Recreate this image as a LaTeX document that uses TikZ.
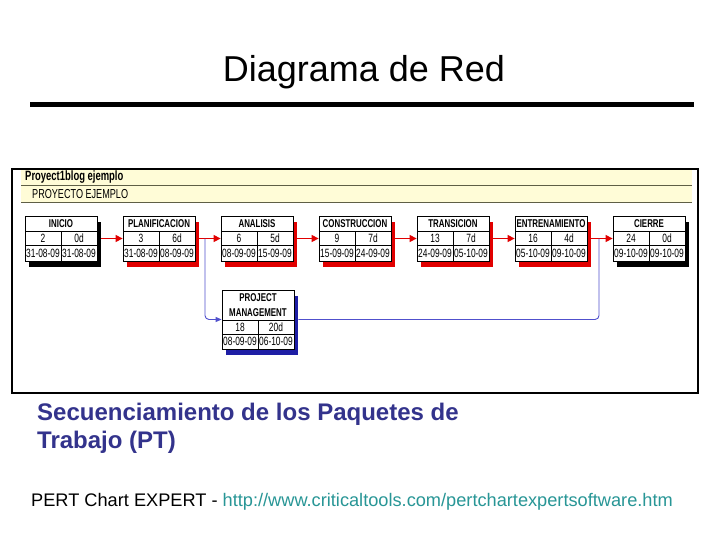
\documentclass[tikz,border=0pt]{standalone}
\usepackage{fontspec}
\setmainfont{Liberation Sans}
\newfontfamily\narrowfont[FakeStretch=0.7]{Liberation Sans}
\usetikzlibrary{calc,arrows.meta}
\definecolor{critred}{RGB}{225,0,0}
\definecolor{pmblue}{RGB}{30,30,165}
\definecolor{linkblue}{RGB}{80,80,205}
\definecolor{bandyellow}{RGB}{255,252,215}
\definecolor{bandline}{RGB}{95,95,70}
\definecolor{captionblue}{RGB}{51,51,140}
\definecolor{urlteal}{RGB}{40,150,150}
\tikzset{
  taskframe/.style={draw=black, fill=white, line width=0.8pt, inner sep=0pt,
    minimum width=72pt, minimum height=45pt},
  pmframe/.style={draw=black, fill=white, line width=0.8pt, inner sep=0pt,
    minimum width=72pt, minimum height=59pt},
  headtext/.style={font=\narrowfont\bfseries\fontsize{11.3}{12}\selectfont, inner sep=0pt},
  celltext/.style={font=\narrowfont\fontsize{12}{13}\selectfont, inner sep=0pt},
  critarrow/.style={draw=critred, line width=1.3pt, shorten <=4pt, -{Triangle[length=7pt,width=7pt]}},
  linkline/.style={draw=linkblue, line width=0.9pt, rounded corners=4pt},
}
% #1 name, #2 left x, #3 top y, #4 shadow colour, #5 title, #6 id, #7 duration, #8 start, #9 end
\newcommand{\taskbox}[9]{%
  \fill[#4] (#2+4,#3+6) rectangle (#2+76,#3+51);
  \node[taskframe] (#1) at (#2+36,#3+22.5) {};
  \draw[line width=0.8pt] (#2,#3+15) -- (#2+72,#3+15) (#2,#3+29) -- (#2+72,#3+29)
    (#2+36,#3+15) -- (#2+36,#3+45);
  \node[headtext] (#1t) at (#2+36,#3+7.8) {#5};
  \node[celltext] (#1i) at (#2+18,#3+22.3) {#6};
  \node[celltext] (#1d) at (#2+54,#3+22.3) {#7};
  \node[celltext] (#1s) at (#2+18,#3+37.3) {#8};
  \node[celltext] (#1e) at (#2+54,#3+37.3) {#9};
}
\begin{document}
\begin{tikzpicture}[x=1pt,y=-1pt]
\useasboundingbox (0,0) rectangle (728,546);
\fill[white] (0,0) rectangle (728,546);

% title
\node[anchor=base, inner sep=0pt, font=\fontsize{36}{40}\selectfont] (title) at (364,81) {Diagrama de Red};
\draw[line width=5pt] (30,104.5) -- (694,104.5);

% frame and bands
\fill[bandyellow] (21,170) rectangle (692,185);
\fill[bandyellow] (21,186) rectangle (692,202);
\draw[bandline, line width=0.8pt] (21,185.5) -- (692,185.5) (21,202.5) -- (692,202.5);
\draw[line width=1.2pt] (12,169) rectangle (698,393);
\node[anchor=west, inner sep=0pt, font=\narrowfont\bfseries\fontsize{13.5}{15}\selectfont] (proj) at (25,177.5) {Proyect1blog ejemplo};
\node[anchor=west, inner sep=0pt, font=\narrowfont\fontsize{13}{15}\selectfont] (summ) at (32,194.5) {PROYECTO EJEMPLO};

% tasks
\taskbox{ini}{25}{216}{black}{INICIO}{2}{0d}{31-08-09}{31-08-09}
\taskbox{pla}{123}{216}{critred}{PLANIFICACION}{3}{6d}{31-08-09}{08-09-09}
\taskbox{ana}{221}{216}{critred}{ANALISIS}{6}{5d}{08-09-09}{15-09-09}
\taskbox{con}{319}{216}{critred}{CONSTRUCCION}{9}{7d}{15-09-09}{24-09-09}
\taskbox{tra}{417}{216}{critred}{TRANSICION}{13}{7d}{24-09-09}{05-10-09}
\taskbox{ent}{515}{216}{critred}{ENTRENAMIENTO}{16}{4d}{05-10-09}{09-10-09}
\taskbox{cie}{613}{216}{black}{CIERRE}{24}{0d}{09-10-09}{09-10-09}

% project management box
\fill[pmblue] (226,296) rectangle (298,355);
\node[pmframe] (pm) at (258,319.5) {};
\draw[line width=0.8pt] (222,320) -- (294,320) (222,334) -- (294,334) (258,320) -- (258,349);
\node[headtext, align=center, font=\narrowfont\bfseries\fontsize{11.3}{14.5}\selectfont] (pmt) at (258,305) {PROJECT\\MANAGEMENT};
\node[celltext] (pmi) at (240,327.3) {18};
\node[celltext] (pmd) at (276,327.3) {20d};
\node[celltext] (pms) at (240,341.8) {08-09-09};
\node[celltext] (pme) at (276,341.8) {06-10-09};

% critical arrows
\draw[critarrow] (ini.east) -- (pla.west);
\draw[critarrow] (pla.east) -- (ana.west);
\draw[critarrow] (ana.east) -- (con.west);
\draw[critarrow] (con.east) -- (tra.west);
\draw[critarrow] (tra.east) -- (ent.west);
\draw[critarrow] (ent.east) -- (cie.west);

% non-critical links
\coordinate (split) at (205,238.5);
\coordinate (join) at (599,238.5);
\draw[linkline, -{Triangle[length=6pt,width=5pt]}] (split) |- (pm.west);
\draw[linkline, shorten <=4pt] (pm.east) -| (join);

% caption
\node[anchor=base west, inner sep=0pt, text=captionblue, font=\bfseries\fontsize{24}{28}\selectfont] (cap1) at (37,420) {Secuenciamiento de los Paquetes de};
\node[anchor=base west, inner sep=0pt, text=captionblue, font=\bfseries\fontsize{24}{28}\selectfont] (cap2) at (37,448) {Trabajo (PT)};

% footer
\node[anchor=base west, inner sep=0pt, font=\fontsize{18.2}{21}\selectfont] (foot) at (31,506) {PERT Chart EXPERT - \textcolor{urlteal}{http://www.criticaltools.com/pertchartexpertsoftware.htm}};
\end{tikzpicture}
\end{document}
